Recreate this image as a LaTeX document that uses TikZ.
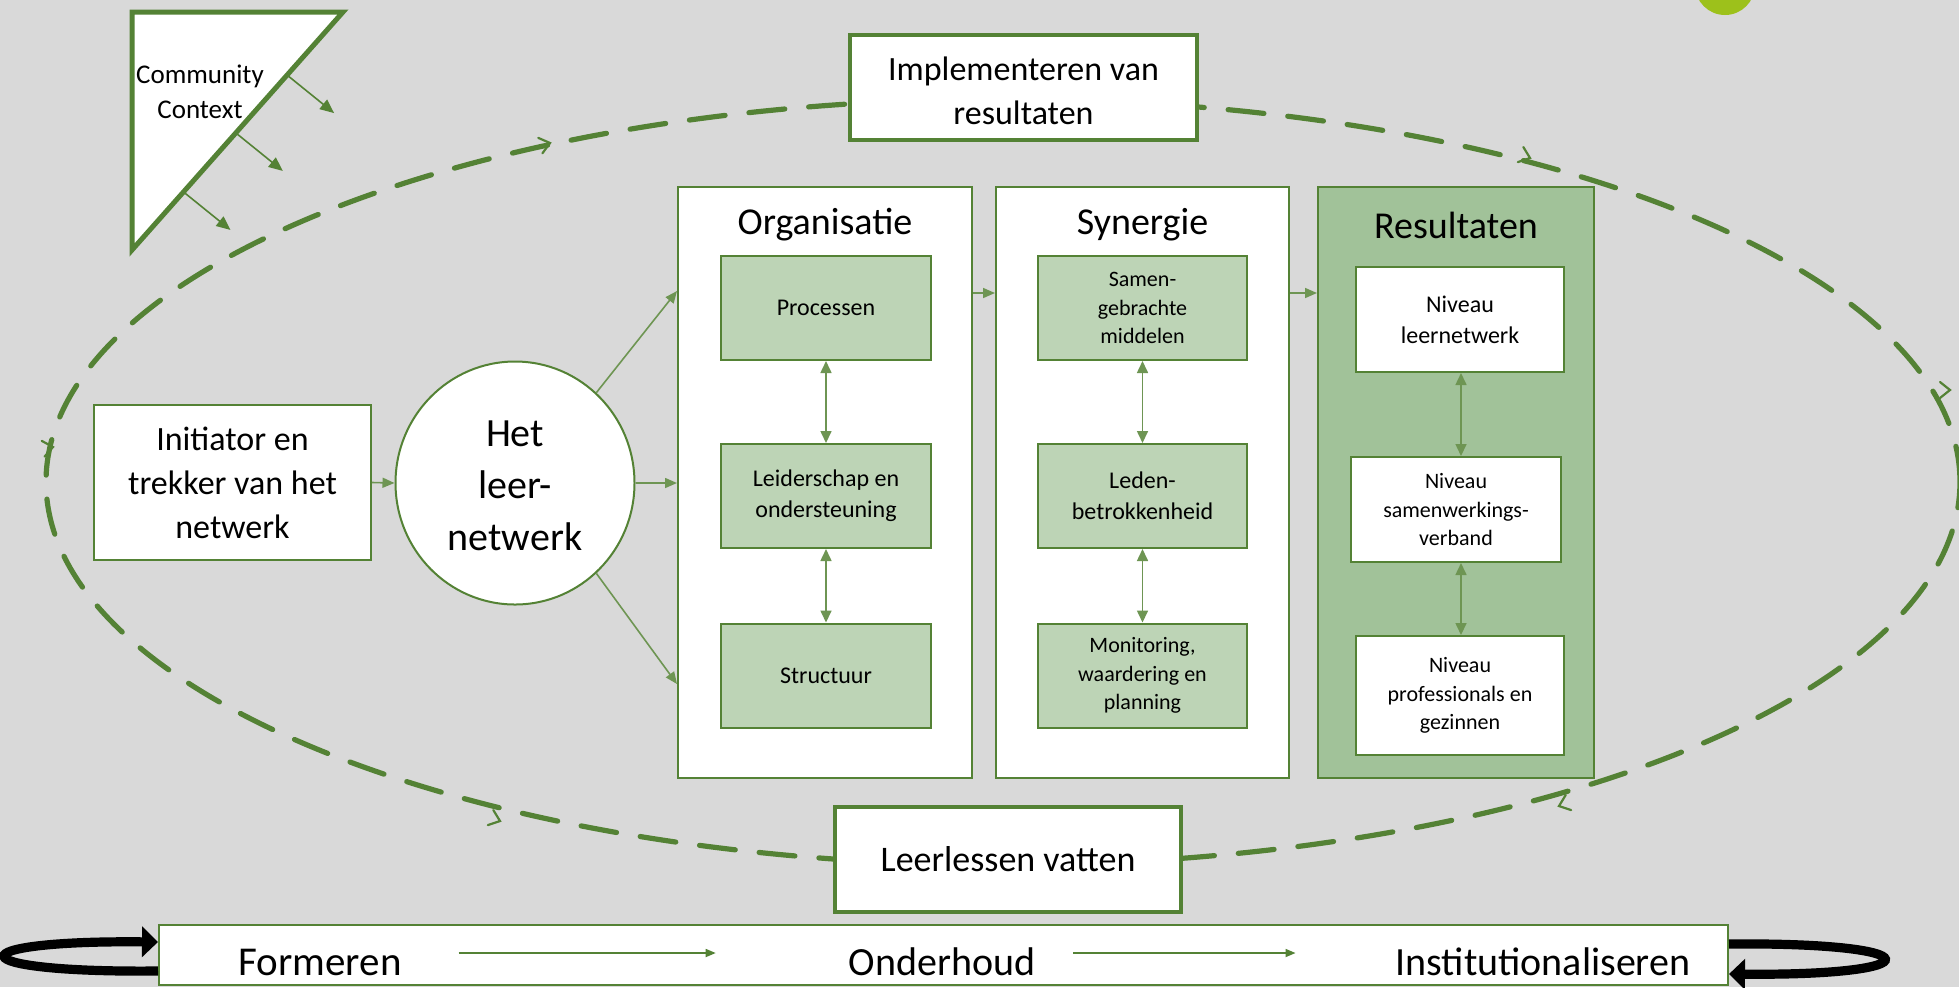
\documentclass[tikz,border=0pt]{standalone}
\usepackage{fontspec}
\setmainfont{Carlito}
\usetikzlibrary{arrows.meta,calc,shapes.geometric}
\definecolor{dg}{HTML}{548235}
\definecolor{lg}{HTML}{BDD4B6}
\definecolor{mg}{HTML}{A1C299}
\definecolor{bgc}{HTML}{D9D9D9}
\definecolor{limec}{HTML}{9DC11B}
\tikzset{
  panel/.style={draw=dg, line width=1pt, fill=white, inner sep=0pt},
  subbox/.style={draw=dg, line width=1pt, fill=lg, align=center, inner sep=0pt, minimum height=52pt},
  twol/.style={font=\fontsize{12}{15.5}\selectfont},
  threel/.style={font=\fontsize{11}{14.4}\selectfont},
  whitebox/.style={draw=dg, line width=1pt, fill=white, align=center, inner sep=0pt},
  thickbox/.style={draw=dg, line width=2.4pt, fill=white, align=center, inner sep=0pt},
  title/.style={font=\fontsize{19}{23}\selectfont},
  thinarr/.style={draw=dg!85, line width=0.8pt, -{Triangle[length=6pt,width=5pt]}},
  dblarr/.style={draw=dg!85, line width=0.8pt, {Triangle[length=6pt,width=5.5pt]}-{Triangle[length=6pt,width=5.5pt]}},
  loopy/.style={draw=black, line width=4.6pt, -{Triangle[length=8pt,width=15pt]}},
  chev/.pic={\draw[dg, line width=1.1pt, line cap=round] (-5pt,4pt) -- (0,0) -- (-5pt,-4pt);},
  cycleline/.style={draw=dg, line width=2.6pt, line cap=round, dash pattern=on 18pt off 12pt},
}
\begin{document}
\begin{tikzpicture}[x=0.5pt,y=-0.5pt]
\fill[bgc] (0,0) rectangle (1959,987);
\useasboundingbox (0,0) rectangle (1959,987);
% lime circle top right
\fill[limec] (1725,-15) circle [radius=15pt];

% dashed cycle
\draw[cycleline] (1003,482) ellipse [x radius=478.5pt, y radius=191.5pt];
\pic[rotate=15] at (550,143) {chev};
\pic[rotate=-20] at (1530,158) {chev};
\pic[rotate=0] at (1950,390) {chev};
\pic[rotate=200] at (1559,806) {chev};
\pic[rotate=-20] at (500,821) {chev};
\pic[rotate=10] at (53,447) {chev};

% community context triangle
\coordinate (t1) at (132,12);
\coordinate (t2) at (343,12);
\coordinate (t3) at (132,250);
\draw[dg, line width=2.5pt, fill=white, line join=miter] (t1) -- (t2) -- (t3) -- cycle;
\node[align=center, font=\fontsize{13.5}{17.5}\selectfont] (cc) at (200,92) {Community\\Context};
\path (t2) -- (t3) coordinate[pos=0.265] (h1) coordinate[pos=0.508] (h2) coordinate[pos=0.756] (h3);
\foreach \h in {h1,h2,h3}{
  \draw[dg, line width=0.8pt, -{Triangle[length=7pt,width=6pt]}] (\h) -- ++(47,38);
}

% top and bottom boxes
\node[thickbox, minimum width=173.5pt, minimum height=52.5pt] (impl) at (1023.5,87.5) {};
\node[align=center, font=\fontsize{17}{22}\selectfont] (implt) at (1023.5,91) {Implementeren van\\resultaten};
\node[thickbox, minimum width=173pt, minimum height=52.5pt, font=\fontsize{18}{22}\selectfont] (leer) at (1008,859.5) {Leerlessen vatten};

% initiator and network
\node[whitebox, minimum width=138.5pt, minimum height=77.5pt, font=\fontsize{17}{22}\selectfont] (init) at (232.5,482.5) {Initiator en\\trekker van het\\netwerk};
\node[ellipse, draw=dg, line width=1pt, fill=white, inner sep=0pt, minimum width=119.5pt, minimum height=121.5pt, align=center, font=\fontsize{20}{26}\selectfont] (het) at (515,483) {};
\node[align=center, font=\fontsize{20}{26}\selectfont] (hett) at (515,486) {Het\\leer-\\netwerk};

% panels
\node[panel, minimum width=147pt, minimum height=295.5pt] (org) at (825,482.5) {};
\node[panel, minimum width=146.5pt, minimum height=295.5pt] (syn) at (1142.5,482.5) {};
\node[panel, fill=mg, minimum width=138pt, minimum height=295.5pt] (res) at (1456,482.5) {};
\node[title] (orgt) at (825,225) {Organisatie};
\node[title] (synt) at (1142.5,225) {Synergie};
\node[title] (rest) at (1456,225) {Resultaten};

% organisatie sub-boxes
\node[subbox, twol, minimum width=105pt] (o1) at (826,308) {Processen};
\node[subbox, twol, minimum width=105pt] (o2) at (826,496) {Leiderschap en\\ondersteuning};
\node[subbox, twol, minimum width=105pt] (o3) at (826,675.5) {Structuur};
% synergie sub-boxes
\node[subbox, threel, minimum width=104.5pt] (s1) at (1142.5,308) {Samen-\\gebrachte\\middelen};
\node[subbox, twol, minimum width=104.5pt] (s2) at (1142.5,496) {Leden-\\betrokkenheid};
\node[subbox, threel, minimum width=104.5pt] (s3) at (1142.5,675.5) {Monitoring,\\waardering en\\planning};
% resultaten sub-boxes
\node[whitebox, twol, minimum width=104pt, minimum height=52.5pt] (r1) at (1460,319.5) {Niveau\\leernetwerk};
\node[whitebox, threel, minimum width=105pt, minimum height=52.5pt] (r2) at (1456,509.5) {Niveau\\samenwerkings-\\verband};
\node[whitebox, threel, minimum width=104pt, minimum height=59.5pt] (r3) at (1460,695.5) {Niveau\\professionals en\\gezinnen};

% vertical double arrows
\draw[dblarr] (o1.south) -- (o2.north);
\draw[dblarr] (o2.south) -- (o3.north);
\draw[dblarr] (s1.south) -- (s2.north);
\draw[dblarr] (s2.south) -- (s3.north);
\draw[dblarr] ([xshift=0.5pt]r1.south) -- ([xshift=0.5pt]r1.south |- r2.north);
\draw[dblarr] ([xshift=2.5pt]r2.south) -- ([xshift=2.5pt]r2.south |- r3.north);

% flow arrows
\draw[thinarr] (init.east) -- (het.west);
\draw[thinarr] (het.48) -- ($(org.north west)+(0,105)$);
\draw[thinarr] (het.east) -- (het.east -| org.west);
\draw[thinarr] (het.-48) -- ($(org.north west)+(0,498)$);
\draw[thinarr] ($(org.north east)+(0,107)$) -- ($(syn.north west)+(0,107)$);
\draw[thinarr] ($(syn.north east)+(0,107)$) -- ($(res.north west)+(0,107)$);

% bottom bar
\node[draw=dg, line width=1pt, fill=white, inner sep=0pt, minimum width=784.5pt, minimum height=30pt] (bar) at (943.5,955) {};
\node[font=\fontsize{20.5}{24}\selectfont] (f1) at (320,962) {Formeren};
\node[font=\fontsize{20}{24}\selectfont] (f2) at (942,962) {Onderhoud};
\node[font=\fontsize{20}{24}\selectfont] (f3) at (1543,962) {Institutionaliseren};
\draw[dg, line width=0.8pt, -{Triangle[length=5pt,width=4pt]}] ($(f1.east)+(50,-9)$) -- ($(f2.west)+(-126,-9)$);
\draw[dg, line width=0.8pt, -{Triangle[length=5pt,width=4pt]}] ($(f2.east)+(31,-9)$) -- ($(f3.west)+(-93,-9)$);

% black loops
\coordinate (lb) at ($(bar.west)+(0,16)$);
\coordinate (lt) at ($(bar.west)+(0,-13)$);
\coordinate (rt) at ($(bar.east)+(0,-11)$);
\coordinate (rb) at ($(bar.east)+(0,19)$);
\draw[loopy] (lb) .. controls (-45,973) and (-45,940) .. (lt);
\draw[loopy] (rt) .. controls (1935,942) and (1935,976) .. (rb);
\end{tikzpicture}
\end{document}
